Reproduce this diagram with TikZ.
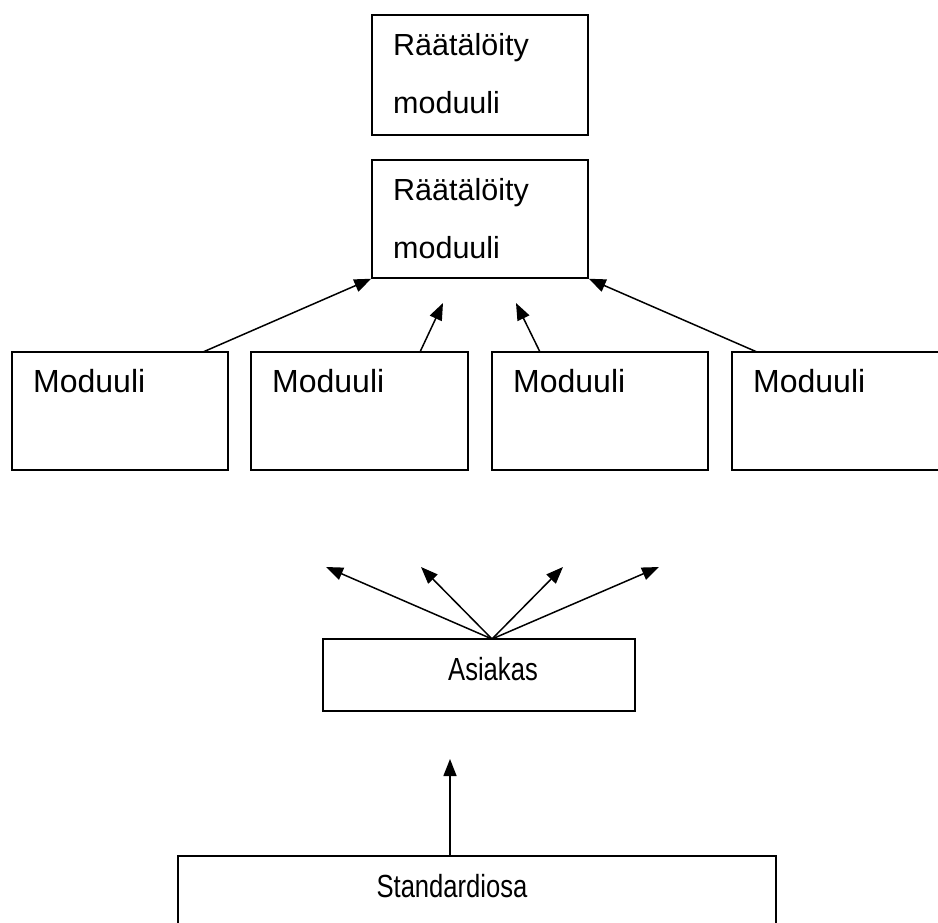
\documentclass[tikz,border=0pt]{standalone}
\usepackage{fontspec}
\setmainfont{Liberation Sans}
\newfontfamily\narrowfont[FakeStretch=0.8]{Liberation Sans}
\usetikzlibrary{arrows.meta}
\begin{document}
\begin{tikzpicture}[x=1pt,y=-1pt,
  box/.style={draw,line width=1.5pt,rectangle,inner sep=0pt},
  lbl/.style={anchor=base west,inner sep=0pt,font=\fontsize{32}{38}\selectfont},
  tlbl/.style={anchor=base west,inner sep=0pt,font=\fontsize{30.5}{36}\selectfont},
  nlbl/.style={anchor=base,inner sep=0pt,font=\narrowfont\fontsize{32}{38}\selectfont},
  arr/.style={line width=1.5pt,-{Triangle[length=17pt,width=13pt]}}]
\useasboundingbox (0,0) rectangle (938,922);
% top boxes
\node[box,minimum width=216pt,minimum height=120pt] (top) at (480,75) {};
\node[tlbl] (t1) at (393,55) {Räätälöity};
\node[tlbl] (t2) at (393,113) {moduuli};
\node[box,minimum width=216pt,minimum height=118pt] (mid) at (480,219) {};
\node[tlbl] (m1a) at (393,200) {Räätälöity};
\node[tlbl] (m1b) at (393,258) {moduuli};
% modules
\node[box,minimum width=216pt,minimum height=118pt] (mA) at (120,411) {};
\node[box,minimum width=217pt,minimum height=118pt] (mB) at (359.5,411) {};
\node[box,minimum width=216pt,minimum height=118pt] (mC) at (600,411) {};
\node[box,minimum width=216pt,minimum height=118pt] (mD) at (840,411) {};
\node[lbl] (lA) at (33,392) {Moduuli};
\node[lbl] (lB) at (272,392) {Moduuli};
\node[lbl] (lC) at (513,392) {Moduuli};
\node[lbl] (lD) at (753,392) {Moduuli};
% asiakas
\node[box,minimum width=312pt,minimum height=72pt] (as) at (479,675) {};
\node[nlbl] (asl) at (493,680) {Asiakas};
% standardiosa
\node[box,minimum width=598pt,minimum height=120pt] (st) at (477,916) {};
\node[nlbl] (stl) at (452,897) {Standardiosa};
% coordinates
\coordinate (sA) at (203,352);
\coordinate (sB) at (420,352);
\coordinate (sC) at (540,352);
\coordinate (sD) at (757,352);
\coordinate (eB) at (443,303);
\coordinate (eC) at (516,303);
\coordinate (aS) at (492,639);
\coordinate (a1) at (326,567);
\coordinate (a2) at (421,567);
\coordinate (a3) at (563,567);
\coordinate (a4) at (659,567);
\coordinate (sS) at (450,856);
\coordinate (sE) at (450,759);
% arrows
\draw[arr] (sA) -- (mid.south west);
\draw[arr] (sB) -- (eB);
\draw[arr] (sC) -- (eC);
\draw[arr] (sD) -- (mid.south east);
\draw[arr] (aS) -- (a1);
\draw[arr] (aS) -- (a2);
\draw[arr] (aS) -- (a3);
\draw[arr] (aS) -- (a4);
\draw[arr] (sS) -- (sE);
\end{tikzpicture}
\end{document}
